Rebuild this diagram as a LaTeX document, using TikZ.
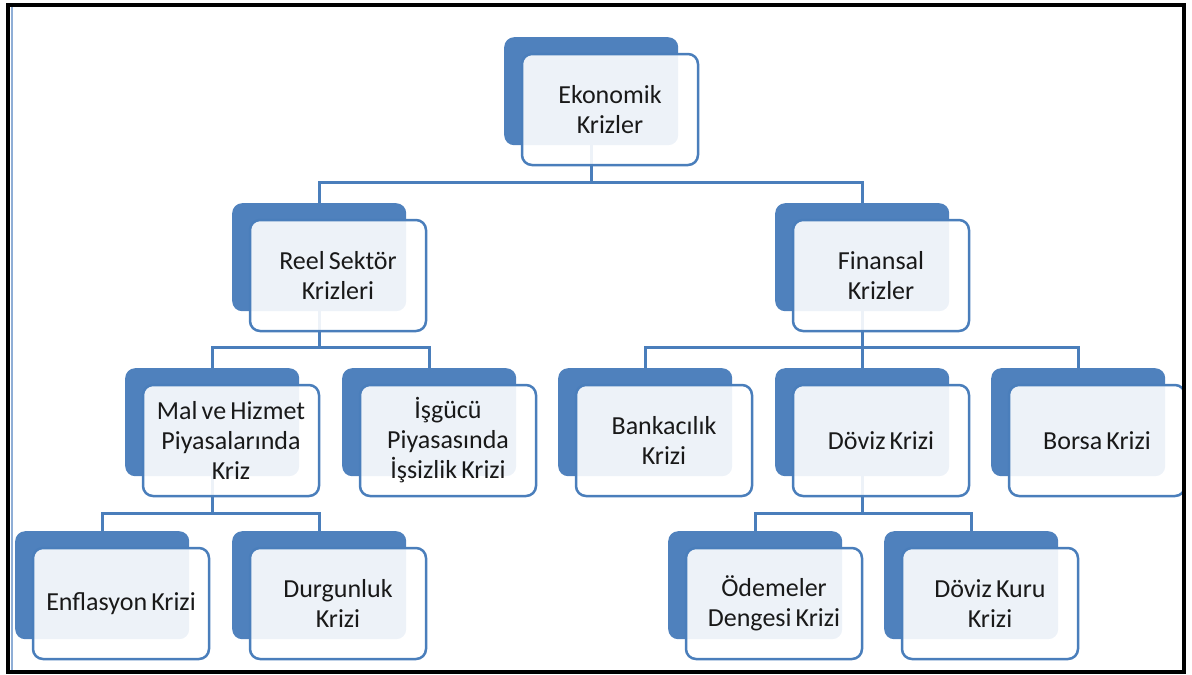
\documentclass[tikz,border=0pt]{standalone}
\usepackage{fontspec}
\setmainfont{Carlito}
\definecolor{cb}{HTML}{4F81BD}
\definecolor{cl}{HTML}{4A7EBB}
\definecolor{strip}{HTML}{8FAED6}
\newcommand\tightsp{\spaceskip=0.16em plus 0.05em\relax}
\begin{document}
\begin{tikzpicture}[x=1pt,y=-1pt,
 back/.style={fill=cb, rounded corners=10pt, minimum width=174pt, minimum height=108pt, inner sep=0pt, anchor=north west},
 front/.style={draw=cl, line width=2.5pt, rounded corners=10pt, fill=white, fill opacity=0.9, text opacity=1, minimum width=176pt, minimum height=111pt, inner sep=0pt, font=\fontsize{26}{30}\selectfont\tightsp, align=center, text=black!90},
 conn/.style={draw=cl, line width=3pt}]
\useasboundingbox (0,0) rectangle (1192,675);
% back rectangles
\node[back] (ek) at (504,37) {};
\node[back] (reel) at (232,203) {};
\node[back] (fin) at (775,203) {};
\node[back] (mal) at (125,368) {};
\node[back] (isg) at (342,368) {};
\node[back] (ban) at (558,368) {};
\node[back] (dov) at (775,368) {};
\node[back] (bor) at (991,368) {};
\node[back] (enf) at (15,531) {};
\node[back] (dur) at (232,531) {};
\node[back] (ode) at (668,531) {};
\node[back] (kur) at (884,531) {};
% connectors
\draw[conn] (ek.south) -- ++(0,37) -| (reel.north);
\draw[conn] (ek.south) -- ++(0,37) -| (fin.north);
\draw[conn] (reel.south) -- ++(0,36) -| (mal.north);
\draw[conn] (reel.south) -- ++(0,36) -| (isg.north);
\draw[conn] (fin.south) -- ++(0,36) -| (ban.north);
\draw[conn] (fin.south) -- ++(0,36) -| (dov.north);
\draw[conn] (fin.south) -- ++(0,36) -| (bor.north);
\draw[conn] (mal.south) -- ++(0,37) -| (enf.north);
\draw[conn] (mal.south) -- ++(0,37) -| (dur.north);
\draw[conn] (dov.south) -- ++(0,37) -| (ode.north);
\draw[conn] (dov.south) -- ++(0,37) -| (kur.north);
% front rectangles
\node[front] (ekf) at ([shift={(106,72.5)}]ek.north west) {Ekonomik\\Krizler};
\node[front] (reelf) at ([shift={(106,72.5)}]reel.north west) {Reel Sektör\\Krizleri};
\node[front] (finf) at ([shift={(106,72.5)}]fin.north west) {Finansal\\Krizler};
\node[front] (malf) at ([shift={(106,72.5)}]mal.north west) {Mal ve Hizmet\\Piyasalarında\\Kriz};
\node[front] (isgf) at ([shift={(106,72.5)}]isg.north west) {İşgücü\\Piyasasında\\İşsizlik Krizi};
\node[front] (banf) at ([shift={(106,72.5)}]ban.north west) {Bankacılık\\Krizi};
\node[front] (dovf) at ([shift={(106,72.5)}]dov.north west) {Döviz Krizi};
\node[front] (borf) at ([shift={(106,72.5)}]bor.north west) {Borsa Krizi};
\node[front] (enff) at ([shift={(106,72.5)}]enf.north west) {Enflasyon Krizi};
\node[front] (durf) at ([shift={(106,72.5)}]dur.north west) {Durgunluk\\Krizi};
\node[front] (odef) at ([shift={(106,72.5)}]ode.north west) {Ödemeler\\Dengesi Krizi};
\node[front] (kurf) at ([shift={(106,72.5)}]kur.north west) {Döviz Kuru\\Krizi};
% frame
\fill[white] (1186,0) rectangle (1192,675);
\draw[strip, line width=2pt] (11.5,6) -- (11.5,670);
\draw[black, line width=4pt] (8,4.5) rectangle (1184,672);
\end{tikzpicture}
\end{document}
